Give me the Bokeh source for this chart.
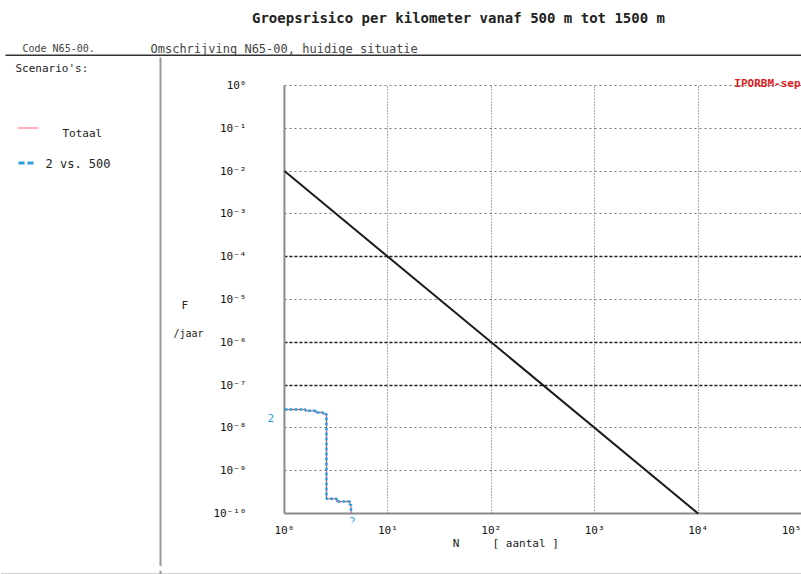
from bokeh.plotting import figure
from bokeh.layouts import column, row
from bokeh.models import (Label, BoxAnnotation, FixedTicker, CustomJSTickFormatter,
                          Range1d, Grid, ColumnDataSource, Plot)
from bokeh.core.properties import value
from bokeh.embed import file_html
from bokeh.resources import INLINE

# ---------------- data ----------------
TITLE = "Groepsrisico per kilometer vanaf 500 m tot 1500 m"
CODE_TEXT = "Code N65-00."
DESC_TEXT = "Omschrijving N65-00, huidige situatie"
SCEN_HEADER = "Scenario's:"
LEGEND_NAMES = ["Totaal", "2 vs. 500"]
MODEL_TAG = "IPORBM-sep"
X_LABEL = "N" + "\u00a0" * 5 + "[ aantal ]" + "\u00a0" * 7
Y_LABEL_F = "F"
Y_LABEL_UNIT = "/jaar"
SCEN_MARK = "2"

x_ticks = [1, 10, 100, 1000, 10000, 100000]
y_ticks = [1e0, 1e-1, 1e-2, 1e-3, 1e-4, 1e-5, 1e-6, 1e-7, 1e-8, 1e-9, 1e-10]
y_dark_grid = [1e-4, 1e-6, 1e-7]
x_span = [1, 100000]
y_span = [1e-10, 1]

# orientatiewaarde (norm line)
norm_n = [1, 10000]
norm_f = [1e-2, 1e-10]

# FN curve, scenario "2 vs. 500" (equal to Totaal)
curve_n = [1.0, 1.6, 2.0, 2.35, 2.55, 3.2, 4.3, 4.4]
curve_f = [2.7e-8, 2.5e-8, 2.3e-8, 2.1e-8, 2.2e-10, 1.9e-10, 1.6e-10, 1.0e-10]

MONO = "DejaVu Sans Mono"
BLUE = "#2aa0e0"
RED = "#e8404a"
HAS_FRAME_ALIGN = "frame_align" in Plot.properties()


def no_align(f):
    if HAS_FRAME_ALIGN:
        f.frame_align = False


def deco_fig(w, h):
    f = figure(width=w, height=h, output_backend="svg", toolbar_location=None,
               x_axis_location=None, y_axis_location=None, title=None,
               x_range=Range1d(0, 1), y_range=Range1d(0, 1),
               min_border=0, min_border_left=0, min_border_right=0,
               min_border_top=0, min_border_bottom=0)
    f.grid.visible = False
    f.outline_line_color = None
    f.border_fill_color = "white"
    f.background_fill_color = "white"
    no_align(f)
    return f


def lab(f, text, x, y, size="11px", color="#222222", align="left", bold=False):
    f.add_layout(Label(x=x, y=y, x_units="canvas", y_units="canvas", text=text,
                       text_font=MONO, text_font_size=size, text_color=color,
                       text_align=align, text_baseline="middle", level="overlay",
                       text_font_style="bold" if bold else "normal"))


def box(f, l, r, t, b, color):
    f.add_layout(BoxAnnotation(left=l, right=r, top=t, bottom=b,
                               left_units="canvas", right_units="canvas",
                               top_units="canvas", bottom_units="canvas",
                               fill_color=color, fill_alpha=1, line_color=None,
                               level="overlay"))


# ---------------- header strip ----------------
top = deco_fig(801, 56)
lab(top, TITLE, 458, 17, size="14px", align="center", bold=True)
lab(top, CODE_TEXT, 22, 48, size="10px", color="#444444")
lab(top, DESC_TEXT, 150, 48, size="12px", color="#444444")
box(top, 5, 801, 56, 54, "#333333")

# ---------------- left panel ----------------
left = deco_fig(210, 510)
lab(left, SCEN_HEADER, 15, 12, size="11px")
box(left, 17, 38, 72, 71, "#ff6070")
lab(left, LEGEND_NAMES[0], 62, 77, size="11px")
box(left, 18, 24, 108, 105, BLUE)
box(left, 27, 33, 108, 105, BLUE)
lab(left, LEGEND_NAMES[1], 45, 107, size="12px")
box(left, 159, 161, 510, 1, "#9a9a9a")
lab(left, Y_LABEL_F, 181, 249, size="11px")
lab(left, Y_LABEL_UNIT, 173, 277, size="10px")

# ---------------- main chart ----------------
# frame extends slightly past the data area (1..1e5, 1e-10..1) so that the
# marker texts next to the curve stay visible
DEC_X = 518 / 5.0
DEC_Y = 428 / 10.0
p = figure(width=591, height=510, x_axis_type="log", y_axis_type="log",
           x_range=Range1d(10 ** (-28 / DEC_X), 1e5),
           y_range=Range1d(10 ** (-10 - 9 / DEC_Y), 10 ** (10 / DEC_Y)),
           output_backend="svg", toolbar_location=None, title=None,
           min_border_left=45, min_border_top=19, min_border_right=0,
           min_border_bottom=44)
p.outline_line_color = None
p.background_fill_color = "white"
p.border_fill_color = "white"
no_align(p)

fmt = CustomJSTickFormatter(code="""
const sup = {'-':'\u207b','0':'\u2070','1':'\u00b9','2':'\u00b2','3':'\u00b3','4':'\u2074',
             '5':'\u2075','6':'\u2076','7':'\u2077','8':'\u2078','9':'\u2079'};
const e = Math.round(Math.log10(tick));
return '10' + String(e).split('').map(c => sup[c]).join('');
""")

for ax, ticks in ((p.xaxis[0], x_ticks), (p.yaxis[0], y_ticks)):
    ax.ticker = FixedTicker(ticks=ticks)
    ax.formatter = fmt
    ax.major_tick_line_color = None
    ax.minor_tick_line_color = None
    ax.axis_line_color = None
    ax.major_label_text_font = MONO
    ax.major_label_text_font_size = "11px"
    ax.major_label_text_color = "#111111"
p.yaxis.major_label_standoff = 4
p.xaxis.major_label_standoff = -5
p.xaxis.axis_label = X_LABEL
p.xaxis.axis_label_text_font = MONO
p.xaxis.axis_label_text_font_size = "11px"
p.xaxis.axis_label_text_font_style = "normal"
p.xaxis.axis_label_text_color = "#222222"
p.xaxis.axis_label_standoff = -3

has_cross = "cross_bounds" in Grid.properties()

p.xgrid.ticker = FixedTicker(ticks=x_ticks[1:-1])
p.xgrid.grid_line_color = "#555555"
p.xgrid.grid_line_dash = "1 2"
p.ygrid.ticker = FixedTicker(ticks=y_ticks[:-1])
p.ygrid.grid_line_color = "#777777"
p.ygrid.grid_line_dash = "2 3"
dark = Grid(dimension=1, ticker=FixedTicker(ticks=y_dark_grid),
            grid_line_color="#222222", grid_line_dash="3 2", grid_line_width=1.5)
p.add_layout(dark)
if has_cross:
    p.xgrid.cross_bounds = (y_span[0], y_span[1])
    p.ygrid.cross_bounds = (x_span[0], x_span[1])
    dark.cross_bounds = (x_span[0], x_span[1])
else:
    p.xgrid.visible = False
    p.ygrid.visible = False
    dark.visible = False
    xs = x_ticks[1:-1]
    p.segment(xs, [y_span[0]] * len(xs), xs, [y_span[1]] * len(xs),
              line_color="#555555", line_dash="1 2")
    ys = y_ticks[:-1]
    p.segment([x_span[0]] * len(ys), ys, [x_span[1]] * len(ys), ys,
              line_color="#777777", line_dash="2 3")
    p.segment([x_span[0]] * 3, y_dark_grid, [x_span[1]] * 3, y_dark_grid,
              line_color="#222222", line_dash="3 2", line_width=1.5)

# axis lines of the data area
p.line([x_span[0], x_span[0]], y_span, line_color="#8a8a8a", line_width=2)
p.line(x_span, [y_span[0], y_span[0]], line_color="#8a8a8a", line_width=2)

p.line(norm_n, norm_f, line_color="#1a1a1a", line_width=2)
src = ColumnDataSource(dict(n=curve_n, f=curve_f))
p.step("n", "f", source=src, mode="after", line_color=RED, line_width=1)
p.step("n", "f", source=src, mode="after", line_color=BLUE, line_width=2.5,
       line_dash="3 2")

# marker texts at both ends of the scenario curve
p.text(x=[curve_n[0], curve_n[-1]], y=[curve_f[0], curve_f[-1]],
       text=[SCEN_MARK, SCEN_MARK], x_offset=[-17, -2], y_offset=[9, 7],
       text_font=value(MONO), text_font_size="11px", text_color=BLUE,
       text_baseline="middle", text_align="left")

lab(p, MODEL_TAG, 590, 27, size="11px", color="#e02020", align="right", bold=True)

# ---------------- bottom strip ----------------
bottom = deco_fig(801, 8)
box(bottom, 159, 161, 4, 0, "#9a9a9a")
box(bottom, 0, 801, 5, 3, "#9a9a9a")

layout = column(top, row(left, p), bottom)
open("out.html", "w").write(file_html(layout, INLINE))
